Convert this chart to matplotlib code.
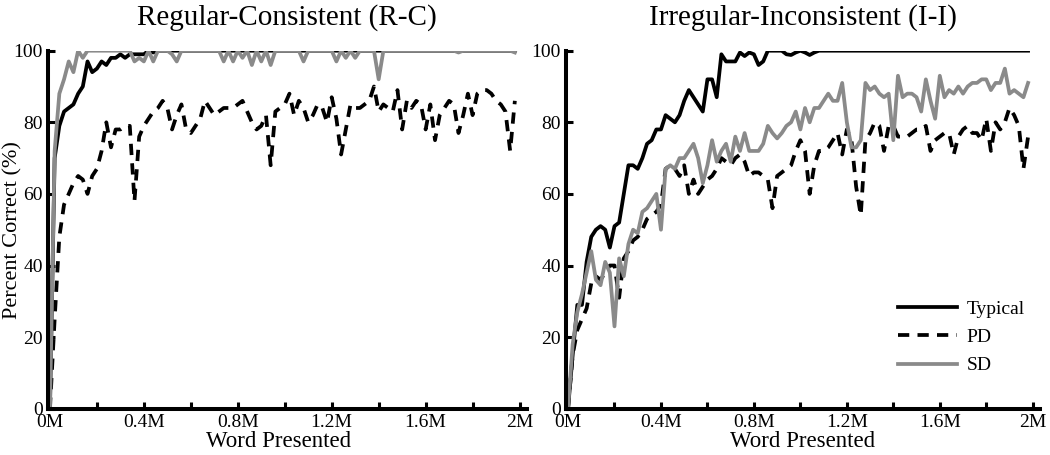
import numpy as np
import matplotlib
matplotlib.use("Agg")
import matplotlib.pyplot as plt
from matplotlib.ticker import MultipleLocator, FuncFormatter

plt.rcParams['font.family'] = ['Liberation Serif', 'DejaVu Serif']

# words presented (millions), one sample every 20K words
words = np.round(np.arange(0, 2.0, 0.02), 2)

# Regular-Consistent (R-C)
typical_rc = [0, 70, 79, 83, 84, 85, 88, 90, 97, 94,
              95, 97, 96, 98, 98, 99, 98, 99, 99, 99,
              99, 100, 99.5, 100, 100, 100, 100, 100, 100, 100,
              100, 100, 100, 100, 100, 100, 100, 100, 100, 100,
              100, 100, 100, 100, 100, 100, 100, 100, 100, 100,
              100, 100, 100, 100, 100, 100, 100, 100, 100, 100,
              100, 100, 100, 100, 100, 100, 100, 100, 100, 100,
              100, 100, 100, 100, 100, 100, 100, 100, 100, 100,
              100, 100, 100, 100, 100, 100, 100, 100, 100, 100,
              100, 100, 100, 100, 100, 100, 100, 100, 100, 100]
pd_rc = [0, 25, 48, 57, 60, 63, 65, 64, 60, 65,
         67, 72, 80, 73, 78, 78, 79, 79, 58, 76,
         79, 81, 83, 84, 86, 84, 78, 82, 85, 78,
         77, 79, 81, 86, 84, 82, 83, 84, 84, 84,
         85, 86, 83, 80, 78, 79, 82, 68, 83, 84,
         85, 88, 82, 86, 84, 80, 82, 85, 84, 80,
         87, 81, 71, 78, 85, 84, 84, 85, 86, 90,
         83, 85, 84, 83, 89, 78, 86, 84, 86, 85,
         78, 85, 75, 82, 84, 86, 85, 77, 82, 88,
         82, 88, 89, 89, 88, 86, 85, 83, 72, 86]
sd_rc = [0, 72, 88, 92, 97, 94, 100, 98, 100, 100,
         100, 100, 100, 100, 100, 100, 100, 100, 97, 98,
         97, 100, 97, 100, 100, 100, 99, 97, 100, 100,
         100, 100, 100, 100, 100, 100, 100, 97, 100, 97,
         100, 98, 100, 96, 100, 97, 100, 96, 100, 100,
         100, 100, 100, 100, 97, 100, 100, 100, 100, 100,
         100, 97, 100, 98, 100, 98, 100, 100, 100, 100,
         92, 100, 100, 100, 100, 100, 100, 100, 100, 100,
         100, 100, 100, 100, 100, 100, 100, 99.5, 100, 100,
         100, 100, 100, 100, 100, 100, 100, 100, 100, 99.5]

# Irregular-Inconsistent (I-I)
typical_ii = [0, 15, 29, 29, 41, 48, 50, 51, 50, 45,
              51, 52, 60, 68, 68, 67, 70, 74, 75, 78,
              78, 82, 81, 80, 82, 86, 89, 87, 85, 83,
              92, 92, 87, 99, 97, 97, 97, 99.5, 98.5, 99.5,
              99, 96, 97, 100, 100, 100, 100, 99, 98.8, 99.5,
              100, 99.5, 98.8, 99.5, 100, 100, 100, 100, 100, 100,
              100, 100, 100, 100, 100, 100, 100, 100, 100, 100,
              100, 100, 100, 100, 100, 100, 100, 100, 100, 100,
              100, 100, 100, 100, 100, 100, 100, 100, 100, 100,
              100, 100, 100, 100, 100, 100, 100, 100, 100, 100]
pd_ii = [0, 15, 22, 25, 28, 35, 37, 36, 38, 40,
         40, 31, 42, 44, 47, 48, 50, 53, 54, 55,
         57, 67, 68, 67, 65, 68, 60, 64, 60, 62,
         64, 65, 67, 70, 69, 68, 70, 71, 69, 65,
         66, 66, 65, 64, 56, 65, 66, 67, 68, 72,
         75, 72, 60, 68, 72, 72, 73, 75, 77, 71,
         78, 75, 62, 54, 75, 77, 80, 79, 72, 79,
         79, 76, 76, 76, 77, 78, 78, 79, 72, 75,
         76, 77, 77, 71, 76, 78, 79, 77, 77, 75,
         81, 72, 80, 78, 80, 84, 82, 79, 67, 76]
sd_ii = [0, 18, 27, 32, 38, 44, 36, 34.5, 41, 38,
         23, 42, 37, 46, 50, 49, 55, 56, 58, 60,
         50, 67, 68, 67, 70, 70, 72, 74, 70, 63,
         68, 75, 69, 72, 74, 69, 76, 72, 77, 72,
         72, 72, 74, 79, 77, 75.5, 77, 79, 80, 83,
         78, 84, 80, 84, 84, 86, 88, 86, 86, 91,
         80, 73, 73, 75, 91, 89, 90, 88, 87, 88,
         75, 93, 87, 88, 88, 87, 83, 92, 86, 81,
         93, 87, 89, 88, 90, 88, 90, 91, 91, 92,
         92, 89, 91, 91, 95, 88, 89, 88, 87, 91]

panels = [
    ("Regular-Consistent (R-C)", typical_rc, pd_rc, sd_rc),
    ("Irregular-Inconsistent (I-I)", typical_ii, pd_ii, sd_ii),
]


def m_fmt(v, pos):
    if abs(v - round(v)) < 1e-9:
        return f"{int(round(v))}M"
    return f"{v:.1f}M"


W, H = 1050, 455
fig = plt.figure(figsize=(W / 100, H / 100), dpi=100)
# axes boxes in pixels: left, bottom(from top), width, height
boxes = [(47.6, 408.7, 479, 358), (565.7, 408.7, 474, 358)]
axes = [fig.add_axes([l / W, 1 - b / H, w / W, h / H]) for l, b, w, h in boxes]

for ax, (title, typ, pdv, sdv) in zip(axes, panels):
    ax.plot(words, typ, color='black', lw=2.7, label='Typical')
    ax.plot(words, pdv, color='black', lw=2.7, dashes=(3.0, 2.2), label='PD')
    ax.plot(words, sdv, color='#8a8a8a', lw=2.7, label='SD')

    ax.set_xlim(-0.01, 2.03)
    ax.set_ylim(0, 100)
    ax.set_title(title, fontsize=21, pad=18.5)
    ax.set_xlabel('Word Presented', fontsize=16.5, labelpad=0)

    ax.xaxis.set_major_locator(MultipleLocator(0.4))
    ax.xaxis.set_minor_locator(MultipleLocator(0.2))
    ax.xaxis.set_major_formatter(FuncFormatter(m_fmt))
    ax.yaxis.set_major_locator(MultipleLocator(20))

    for side in ['top', 'right']:
        ax.spines[side].set_visible(False)
    for side in ['left', 'bottom']:
        ax.spines[side].set_linewidth(2.9)
    ax.tick_params(which='both', direction='in', length=5, width=2.2,
                   labelsize=14, pad=3.5)

axes[0].xaxis.set_label_coords(0.483, -0.062)
axes[1].xaxis.set_label_coords(0.5, -0.062)
axes[0].set_ylabel('Percent Correct (%)', fontsize=16)
axes[0].yaxis.set_label_coords(-0.053, 0.5)

leg = axes[1].legend(loc='lower right', bbox_to_anchor=(1042 / W, 1 - 392 / H),
                     bbox_transform=fig.transFigure,
                     frameon=False, fontsize=14, handlelength=3.0,
                     labelspacing=0.55, handletextpad=0.5)

fig.savefig('out.png', dpi=100)
